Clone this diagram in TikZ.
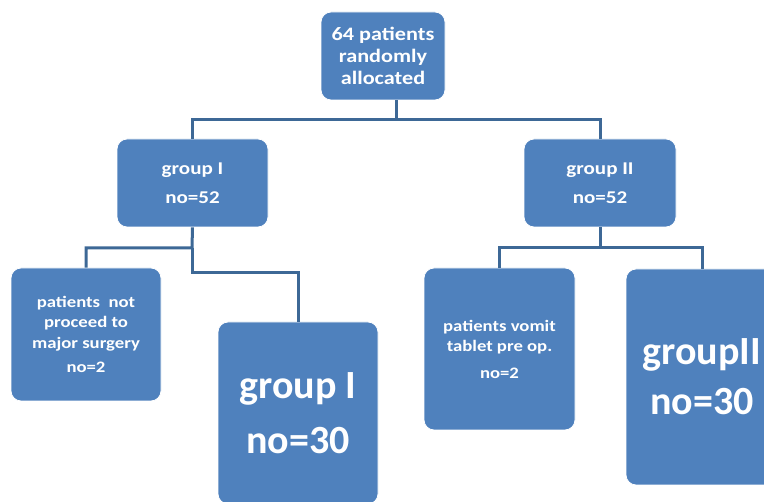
\documentclass[tikz,border=0pt]{standalone}
\usepackage{fontspec}
\setmainfont{Carlito}
\newfontfamily\widefont[FakeStretch=1.17]{Carlito}
\definecolor{boxblue}{HTML}{4F81BD}
\definecolor{lineblue}{HTML}{3D6896}
\begin{document}
\begin{tikzpicture}[x=1pt,y=-1pt,
  box/.style={fill=boxblue, draw=white, line width=0.8pt, rounded corners=10pt, text=white, align=center, inner sep=0pt},
  conn/.style={draw=lineblue, line width=3pt, line join=miter}]
\useasboundingbox (0,0) rectangle (764,502);
\clip (0,0) rectangle (764,502);
% boxes
\node[box, minimum width=124pt, minimum height=88pt, font=\widefont\bfseries\fontsize{19}{22}\selectfont] (top) at (383,56) {64 patients\\randomly\\allocated};
\node[box, minimum width=151pt, minimum height=88pt, font=\widefont\bfseries\fontsize{18}{29}\selectfont] (g1) at (192.5,183) {group I\\no=52};
\node[box, minimum width=152pt, minimum height=88pt, font=\widefont\bfseries\fontsize{18}{29}\selectfont] (g2) at (600,183) {group II\\no=52};
\node[box, minimum width=150pt, minimum height=133pt, font=\widefont\bfseries\fontsize{16}{20.5}\selectfont] (pn) at (86,334.5) {patients\ \ not\\proceed to\\major surgery\\[4pt]no=2};
\node[box, minimum width=160pt, minimum height=182pt, font=\bfseries\fontsize{40}{55}\selectfont] (bg1) at (298,413) {group I\\no=30};
\node[box, minimum width=151pt, minimum height=162pt, font=\widefont\bfseries\fontsize{16}{20}\selectfont] (pv) at (499.5,349) {patients vomit\\tablet pre op.\\[7pt]no=2};
\node[box, minimum width=152pt, minimum height=216pt, font=\bfseries\fontsize{40}{50}\selectfont] (bg2) at (702,377) {groupII\\no=30};
% junctions
\coordinate (j0) at (396,120);
\coordinate (j1) at (192,248);
\coordinate (j2) at (192,273);
\coordinate (j3) at (600,248);
% connectors
\draw[conn] ([xshift=13pt]top.south) -- (j0);
\draw[conn] (g1.north) |- (j0) -| (g2.north);
\draw[conn] (g1.south) -- (j1) -| (pn.north);
\draw[conn] (j1) -- (j2) -| (bg1.north);
\draw[conn] (g2.south) -- (j3);
\draw[conn] (pv.north) |- (j3) -| (bg2.north);
\end{tikzpicture}
\end{document}
